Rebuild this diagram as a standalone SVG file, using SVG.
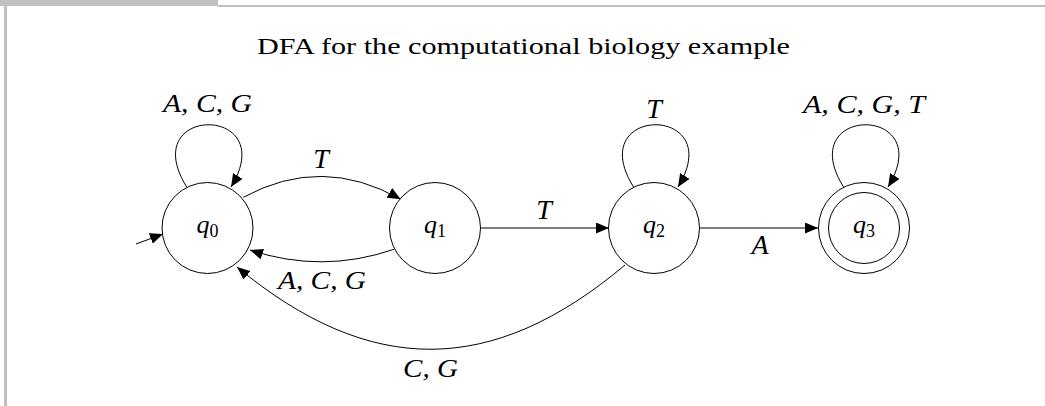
<svg xmlns="http://www.w3.org/2000/svg" width="1045" height="406" viewBox="0 0 1045 406">
  <style>
    .frame { fill: #c0c0c0; }
    .state { fill: #ffffff; stroke: #000000; stroke-width: 1; }
    .edge { fill: none; stroke: #000000; stroke-width: 1; }
    .title { font-family: "Liberation Serif", "DejaVu Serif", serif; font-size: 23px; fill: #000000; }
    .math { font-family: "Liberation Serif", "DejaVu Serif", serif; font-style: italic; font-size: 26px; fill: #000000; }
    .single { font-size: 28px; }
    .qlab { font-family: "Liberation Serif", "DejaVu Serif", serif; font-size: 26px; fill: #000000; }
  </style>
  <defs>
    <marker id="arr" markerUnits="userSpaceOnUse" markerWidth="13" markerHeight="11" refX="13" refY="5.5" orient="auto" viewBox="0 0 13 11">
      <path d="M0,0 L13,5.5 L0,11 z" fill="#000000"/>
    </marker>
  </defs>
  <rect width="1045" height="406" fill="#ffffff"/>
  <g id="frame">
    <rect class="frame" x="0" y="0" width="218" height="6"/>
    <rect class="frame" x="218" y="5" width="827" height="2"/>
    <rect class="frame" x="4" y="0" width="3" height="406"/>
  </g>
  <g id="title">
    <text class="title" x="257" y="54" textLength="533" lengthAdjust="spacingAndGlyphs">DFA for the computational biology example</text>
  </g>
  <g id="connectors">
    <g id="init">
      <path class="edge" d="M136,244 L163,234" marker-end="url(#arr)"/>
    </g>
    <g id="loop-q0">
      <path class="edge" d="M186.7,187 C135,104 282,104 231,187" marker-end="url(#arr)"/>
      <text class="math" x="163" y="112" textLength="89" lengthAdjust="spacingAndGlyphs">A, C, G</text>
    </g>
    <g id="q0-q1">
      <path class="edge" d="M243.3,197.3 Q322,154.5 400.7,199.3" marker-end="url(#arr)"/>
      <text class="math single" x="321" y="168" text-anchor="middle">T</text>
    </g>
    <g id="q1-q0">
      <path class="edge" d="M394,249.3 Q322,274 250,250" marker-end="url(#arr)"/>
      <text class="math" x="278" y="289" textLength="88" lengthAdjust="spacingAndGlyphs">A, C, G</text>
    </g>
    <g id="q1-q2">
      <path class="edge" d="M481,228 L609,228" marker-end="url(#arr)"/>
      <text class="math single" x="544" y="219" text-anchor="middle">T</text>
    </g>
    <g id="loop-q2">
      <path class="edge" d="M633.5,187 C582,104 729,104 678,187" marker-end="url(#arr)"/>
      <text class="math single" x="654" y="118" text-anchor="middle">T</text>
    </g>
    <g id="q2-q3">
      <path class="edge" d="M699,228 L818,228" marker-end="url(#arr)"/>
      <text class="math single" x="760" y="254" text-anchor="middle">A</text>
    </g>
    <g id="loop-q3">
      <path class="edge" d="M843.5,187 C792,104 939,104 888,187" marker-end="url(#arr)"/>
      <text class="math" x="803" y="113" textLength="122" lengthAdjust="spacingAndGlyphs">A, C, G, T</text>
    </g>
    <g id="q2-q0">
      <path class="edge" d="M625,265 C492,377 370,377 237,267" marker-end="url(#arr)"/>
      <text class="math" x="403" y="377" textLength="55" lengthAdjust="spacingAndGlyphs">C, G</text>
    </g>
  </g>
  <g id="q0">
    <circle class="state" cx="207.5" cy="228" r="45.5"/>
    <text class="qlab" x="207.5" y="233" text-anchor="middle"><tspan font-style="italic">q</tspan><tspan font-size="18" dy="4">0</tspan></text>
  </g>
  <g id="q1">
    <circle class="state" cx="435" cy="228" r="45.5"/>
    <text class="qlab" x="435" y="233" text-anchor="middle"><tspan font-style="italic">q</tspan><tspan font-size="18" dy="4">1</tspan></text>
  </g>
  <g id="q2">
    <circle class="state" cx="654" cy="228" r="45.5"/>
    <text class="qlab" x="654" y="233" text-anchor="middle"><tspan font-style="italic">q</tspan><tspan font-size="18" dy="4">2</tspan></text>
  </g>
  <g id="q3">
    <circle class="state" cx="864" cy="228" r="45.5"/>
    <circle class="state" cx="864" cy="228" r="35.5"/>
    <text class="qlab" x="864" y="233" text-anchor="middle"><tspan font-style="italic">q</tspan><tspan font-size="18" dy="4">3</tspan></text>
  </g>
</svg>
